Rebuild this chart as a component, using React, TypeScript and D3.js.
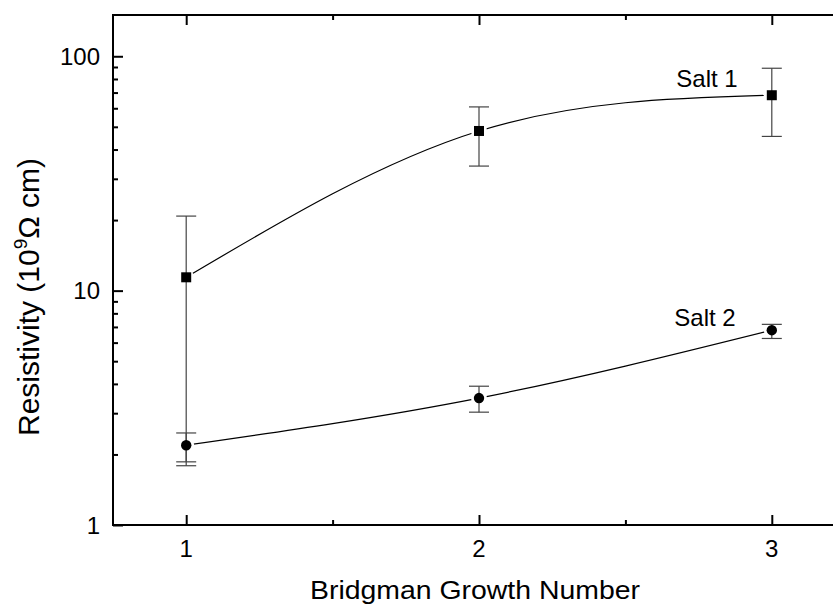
import * as d3 from 'd3';
import React, { useEffect, useRef } from 'react';

// growth numbers and resistivity values (10^9 ohm cm)
const growth = [1, 2, 3];
const salt1 = [11.4, 48, 68.2];
const salt1Hi = [20.8, 60.8, 88.9];
const salt1Lo = [1.79, 34, 45.5];
const salt2 = [2.19, 3.48, 6.78];
const salt2Hi = [2.47, 3.91, 7.18];
const salt2Lo = [1.86, 3.03, 6.25];
const xTicks = [1, 2, 3];
const xMinor = [1.5, 2.5];
const yTicks = [1, 10, 100];

const App = () => {
  const ref = useRef<SVGSVGElement | null>(null);

  useEffect(() => {
    if (!ref.current) return;
    const W = 833, H = 606;
    const left = 113, right = 845, top = 15, bottom = 525;
    const font = '"Liberation Sans", Arial, sans-serif';

    const svg = d3.select(ref.current);
    svg.selectAll('*').remove();

    const x = d3.scaleLinear().domain([0.75, 3.25]).range([left, right]);
    const y = d3.scaleLog().domain([1, 150]).range([bottom, top]);

    // minor ticks for log axis
    const yMinor: number[] = [];
    [1, 10, 100].forEach(d => {
      for (let k = 2; k <= 9; k++) if (d * k <= 150) yMinor.push(d * k);
    });

    const styleAxis = (g: any) => {
      g.select('.domain').remove();
      g.selectAll('line').attr('stroke', '#000').attr('stroke-width', 2);
    };

    // frame
    svg.append('rect')
      .attr('x', left).attr('y', top)
      .attr('width', right - left).attr('height', bottom - top)
      .attr('fill', 'none').attr('stroke', '#000').attr('stroke-width', 2);

    // tick marks (inward)
    const noLabel = () => '';
    svg.append('g').attr('transform', `translate(0,${bottom})`)
      .call(d3.axisBottom(x).tickValues(xTicks).tickFormat(noLabel).tickSizeInner(-10).tickSizeOuter(0))
      .call(styleAxis);
    svg.append('g').attr('transform', `translate(0,${bottom})`)
      .call(d3.axisBottom(x).tickValues(xMinor).tickFormat(noLabel).tickSizeInner(-5).tickSizeOuter(0))
      .call(styleAxis);
    svg.append('g').attr('transform', `translate(0,${top})`)
      .call(d3.axisTop(x).tickValues(xTicks).tickFormat(noLabel).tickSizeInner(-10).tickSizeOuter(0))
      .call(styleAxis);
    svg.append('g').attr('transform', `translate(0,${top})`)
      .call(d3.axisTop(x).tickValues(xMinor).tickFormat(noLabel).tickSizeInner(-5).tickSizeOuter(0))
      .call(styleAxis);
    svg.append('g').attr('transform', `translate(${left},0)`)
      .call(d3.axisLeft(y).tickValues(yTicks).tickFormat(noLabel).tickSizeInner(-10).tickSizeOuter(0))
      .call(styleAxis);
    svg.append('g').attr('transform', `translate(${left},0)`)
      .call(d3.axisLeft(y).tickValues(yMinor).tickFormat(noLabel).tickSizeInner(-5).tickSizeOuter(0))
      .call(styleAxis);
    svg.append('g').attr('transform', `translate(${right},0)`)
      .call(d3.axisRight(y).tickValues(yTicks).tickFormat(noLabel).tickSizeInner(-10).tickSizeOuter(0))
      .call(styleAxis);

    // tick labels
    svg.append('g').selectAll('text').data(xTicks).join('text')
      .attr('x', d => x(d)).attr('y', bottom + 32)
      .attr('text-anchor', 'middle')
      .attr('font-family', font).attr('font-size', 24).attr('fill', '#000')
      .text(d => String(d));
    svg.append('g').selectAll('text').data(yTicks).join('text')
      .attr('x', left - 13).attr('y', d => y(d) + 8.5)
      .attr('text-anchor', 'end')
      .attr('font-family', font).attr('font-size', 24).attr('fill', '#000')
      .text(d => String(d));

    // mask so the curves stop short of the markers
    const pts = [
      ...growth.map((g, i) => [x(g), y(salt1[i])]),
      ...growth.map((g, i) => [x(g), y(salt2[i])]),
    ];
    const mask = svg.append('defs').append('mask').attr('id', 'gap')
      .attr('maskUnits', 'userSpaceOnUse')
      .attr('x', 0).attr('y', 0).attr('width', W).attr('height', H);
    mask.append('rect').attr('width', W).attr('height', H).attr('fill', '#fff');
    mask.selectAll('circle').data(pts).join('circle')
      .attr('cx', d => d[0]).attr('cy', d => d[1]).attr('r', 8).attr('fill', '#000');

    const line = d3.line<number>()
      .x((_, i) => x(growth[i]))
      .y(d => y(d))
      .curve(d3.curveNatural);

    [salt1, salt2].forEach(s => {
      svg.append('path')
        .attr('d', line(s))
        .attr('fill', 'none').attr('stroke', '#000').attr('stroke-width', 1.2)
        .attr('mask', 'url(#gap)');
    });

    // error bars
    const drawErr = (lo: number[], hi: number[]) => {
      const g = svg.append('g').attr('stroke', '#444').attr('stroke-width', 1.2);
      growth.forEach((gx, i) => {
        const cx = x(gx);
        g.append('line').attr('x1', cx).attr('x2', cx).attr('y1', y(lo[i])).attr('y2', y(hi[i]));
        g.append('line').attr('x1', cx - 10).attr('x2', cx + 10).attr('y1', y(lo[i])).attr('y2', y(lo[i]));
        g.append('line').attr('x1', cx - 10).attr('x2', cx + 10).attr('y1', y(hi[i])).attr('y2', y(hi[i]));
      });
    };
    drawErr(salt1Lo, salt1Hi);
    drawErr(salt2Lo, salt2Hi);

    // markers
    svg.append('g').selectAll('rect').data(salt1).join('rect')
      .attr('x', (_, i) => x(growth[i]) - 5)
      .attr('y', d => y(d) - 5)
      .attr('width', 10).attr('height', 10).attr('fill', '#000');
    svg.append('g').selectAll('circle').data(salt2).join('circle')
      .attr('cx', (_, i) => x(growth[i]))
      .attr('cy', d => y(d))
      .attr('r', 5.2).attr('fill', '#000');

    // series labels
    svg.append('text').attr('x', 707).attr('y', 87).attr('text-anchor', 'middle')
      .attr('font-family', font).attr('font-size', 24).text('Salt 1');
    svg.append('text').attr('x', 705).attr('y', 326).attr('text-anchor', 'middle')
      .attr('font-family', font).attr('font-size', 24).text('Salt 2');

    // axis titles
    svg.append('text').attr('x', 475).attr('y', 599).attr('text-anchor', 'middle')
      .attr('textLength', 330).attr('lengthAdjust', 'spacingAndGlyphs')
      .attr('font-family', font).attr('font-size', 26).text('Bridgman Growth Number');

    const yt = svg.append('text')
      .attr('transform', 'translate(39,297) rotate(-90)')
      .attr('text-anchor', 'middle')
      .attr('font-family', font).attr('font-size', 30);
    yt.append('tspan').text('Resistivity (10');
    yt.append('tspan').attr('font-size', 19).attr('dy', -12).text('9');
    yt.append('tspan').attr('dy', 12).text('\u03A9 cm)');
  }, []);

  return (
    <svg
      ref={ref}
      width={833}
      height={606}
      style={{ position: 'absolute', left: 0, top: 0, background: '#fff' }}
    />
  );
};

export default App;
